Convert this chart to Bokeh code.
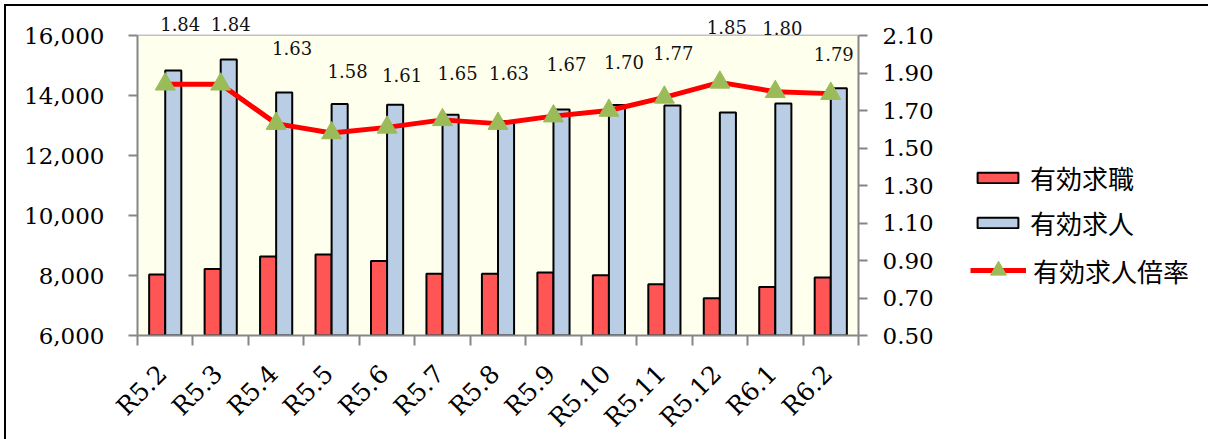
import numpy as np
from bokeh.plotting import figure
from bokeh.layouts import row
from bokeh.models import (ColumnDataSource, Range1d, LinearAxis, FixedTicker,
                          NumeralTickFormatter, Legend, LegendItem, BoxAnnotation)
from bokeh.transform import dodge
from bokeh.embed import file_html
from bokeh.resources import INLINE

months = ["R5.2", "R5.3", "R5.4", "R5.5", "R5.6", "R5.7", "R5.8",
          "R5.9", "R5.10", "R5.11", "R5.12", "R6.1", "R6.2"]
seekers = [8030, 8220, 8630, 8700, 8480, 8060, 8060, 8100, 8010, 7710, 7240, 7620, 7930]
openings = [14830, 15200, 14100, 13720, 13690, 13360, 13150, 13530, 13680, 13670, 13430, 13730, 14240]
ratio = [1.84, 1.84, 1.63, 1.58, 1.61, 1.65, 1.63, 1.67, 1.70, 1.77, 1.85, 1.80, 1.79]

# label placement (screen px) for the ratio data labels
label_dx = [15, 10, 16, 16, 15, 15, 11, 13, 15, 9, 7, 7, 3]
label_dy = [60, 60, 76, 62, 52, 47, 51, 52, 49, 44, 55, 64, 40]

n = len(months)
xc = np.arange(n) + 0.5

src = ColumnDataSource(dict(
    x=xc, seekers=seekers, openings=openings, ratio=ratio,
    txt=[f"{r:.2f}" for r in ratio], dx=label_dx, dy=[-d for d in label_dy],
))

SERIF = "DejaVu Serif"
GRID = "#868686"
CJK = "Noto Sans CJK JP"

# frame extends 25 px above the 16,000 line so the top labels are not clipped
Y0, Y1 = 6000, 16000
R0, R1 = 0.5, 2.1
FH = 325
pad = 25 / 300
y_top = Y1 + (Y1 - Y0) * pad
r_top = R1 + (R1 - R0) * pad

p = figure(frame_width=721, frame_height=FH,
           x_range=Range1d(0, n), y_range=Range1d(Y0, y_top),
           output_backend="svg", toolbar_location=None,
           min_border_left=131, min_border_top=4,
           min_border_right=80, min_border_bottom=98,
           background_fill_color="white", border_fill_color="white",
           outline_line_color=None)
p.extra_y_ranges = {"r": Range1d(R0, r_top)}

p.add_layout(BoxAnnotation(bottom=Y0, top=Y1, fill_color="#FFFFEE", fill_alpha=1,
                           line_color=None, level="underlay"))

# grid
p.xgrid.grid_line_color = None
p.ygrid.grid_line_color = GRID
p.ygrid.grid_line_width = 1.5
p.ygrid.ticker = FixedTicker(ticks=list(range(Y0, Y1 + 1, 2000)))

# bars
bw = 0.29
r1 = p.vbar(x=dodge("x", -0.145), top="seekers", bottom=Y0, width=bw, source=src,
            fill_color="#FF5555", line_color="black", line_width=2)
r2 = p.vbar(x=dodge("x", 0.145), top="openings", bottom=Y0, width=bw, source=src,
            fill_color="#B9CDE5", line_color="black", line_width=2)

# ratio line
r3 = p.line(x="x", y="ratio", source=src, y_range_name="r",
            line_color="#FF0000", line_width=5)
r4 = p.scatter(x="x", y="ratio", source=src, y_range_name="r", marker="triangle",
               size=20, fill_color="#9BBB59", line_color="#9BBB59")

p.text(x="x", y="ratio", text="txt", source=src, y_range_name="r",
       x_offset="dx", y_offset="dy", text_align="center", text_baseline="middle",
       text_font={"value": SERIF}, text_font_size="18px", text_color="#111111")

# axes
SH = -0.05
xa = p.xaxis[0]
xa.ticker = FixedTicker(ticks=list(xc + SH), minor_ticks=list(range(n + 1)))
xa.major_label_overrides = {float(v + SH): m for v, m in zip(xc, months)}
xa.major_label_orientation = np.pi / 4
xa.major_tick_out = 0
xa.major_tick_in = 0
xa.minor_tick_out = 10
xa.minor_tick_in = 0
xa.minor_tick_line_color = GRID
xa.minor_tick_line_width = 2
xa.axis_line_color = GRID
xa.axis_line_width = 2
xa.major_label_standoff = 24
xa.major_label_text_font = SERIF
xa.major_label_text_font_size = "25px"
xa.major_label_text_color = "black"

ya = p.yaxis[0]
ya.ticker = FixedTicker(ticks=list(range(Y0, Y1 + 1, 2000)))
ya.formatter = NumeralTickFormatter(format="0,0")
ya.bounds = (Y0, Y1)
ya.major_tick_out = 9
ya.major_tick_in = 0
ya.minor_tick_line_color = None
ya.major_tick_line_color = GRID
ya.major_tick_line_width = 2
ya.axis_line_color = GRID
ya.axis_line_width = 2
ya.major_label_standoff = 24
ya.major_label_text_font = SERIF
ya.major_label_text_font_size = "23px"
ya.major_label_text_color = "black"

ra = LinearAxis(y_range_name="r",
                ticker=FixedTicker(ticks=[0.5, 0.7, 0.9, 1.1, 1.3, 1.5, 1.7, 1.9, 2.1]),
                formatter=NumeralTickFormatter(format="0.00"), bounds=(R0, R1))
ra.major_tick_out = 9
ra.major_tick_in = 0
ra.minor_tick_line_color = None
ra.major_tick_line_color = GRID
ra.major_tick_line_width = 2
ra.axis_line_color = GRID
ra.axis_line_width = 2
ra.major_label_standoff = 15
ra.major_label_text_font = SERIF
ra.major_label_text_font_size = "23px"
ra.major_label_text_color = "black"
p.add_layout(ra, "right")

# legend panel (its frame lines up with the chart frame)
TOTAL_H = 4 + FH + 98
pl = figure(width=270, height=TOTAL_H, x_range=Range1d(0, 1), y_range=Range1d(0, 1),
            output_backend="svg", toolbar_location=None, min_border=0,
            x_axis_type=None, y_axis_type=None, outline_line_color=None,
            background_fill_color="white", border_fill_color="white")
pl.grid.visible = False
# legend proxies with no drawable data
nan = float("nan")
l1 = pl.vbar(x=[nan], top=[nan], width=0.1, fill_color="#FF5555", line_color="black", line_width=2)
l2 = pl.vbar(x=[nan], top=[nan], width=0.1, fill_color="#B9CDE5", line_color="black", line_width=2)
l3 = pl.line(x=[nan], y=[nan], line_color="#FF0000", line_width=5)
l4 = pl.scatter(x=[nan], y=[nan], marker="triangle", fill_color="#9BBB59", line_color="#9BBB59")

def mk_legend(item, gw, gh, loc):
    lg = Legend(items=[item], location=loc, glyph_width=gw, glyph_height=gh,
                label_text_font=CJK, label_text_font_size="26px",
                label_text_color="black", label_standoff=7, label_height=gh,
                padding=0, margin=0, spacing=0, border_line_color=None,
                background_fill_alpha=0)
    pl.add_layout(lg)
    return lg

mk_legend(LegendItem(label="有効求職", renderers=[l1]), 51, 13, (34, 127))
mk_legend(LegendItem(label="有効求人", renderers=[l2]), 51, 13, (34, 82))
mk_legend(LegendItem(label="有効求人倍率", renderers=[l3, l4]), 56, 40, (32, 33))

lay = row(p, pl)
lay.styles = {"border-left": "2px solid black", "border-top": "2px solid black",
              "margin-left": "4px", "margin-top": "4px"}

open("out.html", "w").write(file_html(lay, INLINE))
